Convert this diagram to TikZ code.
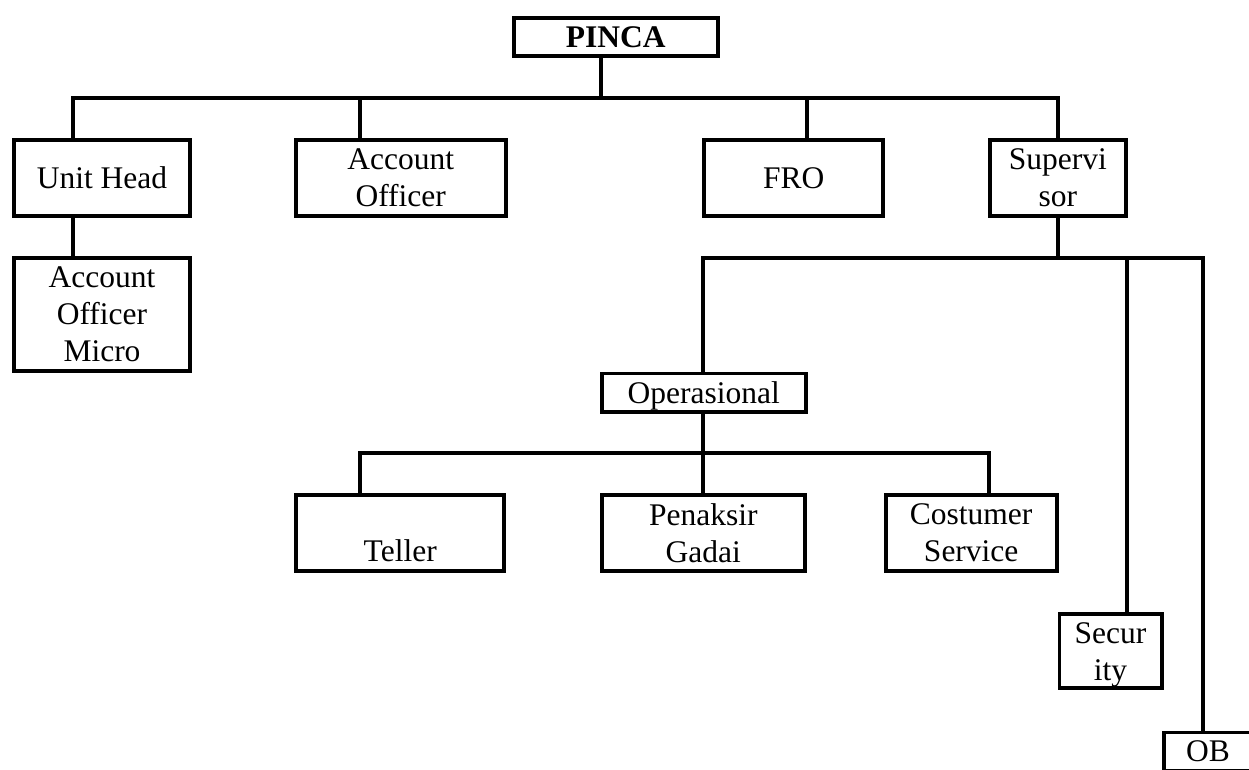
\documentclass[tikz,border=0pt]{standalone}
\usepackage{fontspec}
\setmainfont{Liberation Serif}
\tikzset{
  box/.style={draw, line width=3.9pt, inner sep=0pt, align=center, text depth=0pt,
              font=\fontsize{31.5}{37}\selectfont},
  link/.style={line width=4pt}
}
\begin{document}
\begin{tikzpicture}[x=1pt,y=-1pt]
\clip (0,0) rectangle (1249,769);
% boxes
\node[box, minimum width=204.5, minimum height=38] (pinca) at (615.8,36.8) {\textbf{PINCA}};
\node[box, minimum width=176.5, minimum height=75.5] (uh) at (102,177.8) {Unit Head};
\node[box, minimum width=209.8, minimum height=75.5] (ao) at (400.7,177.8) {Account\\Officer};
\node[box, minimum width=178.8, minimum height=75.5] (fro) at (793.8,177.8) {FRO};
\node[box, minimum width=135.5, minimum height=75.5] (sup) at (1057.8,177.8) {Supervi\\sor};
\node[box, minimum width=176.5, minimum height=112.8] (aom) at (102,314.2) {Account\\Officer\\Micro};
\node[box, minimum width=204.2, minimum height=38.1] (op) at (703.8,392.5) {Operasional};
\node[box, minimum width=208.2, minimum height=75.9] (tel) at (400.2,533) {\vphantom{P}\\Teller};
\node[box, minimum width=203.2, minimum height=75.9] (pg) at (703.3,533) {Penaksir\\Gadai};
\node[box, minimum width=170.8, minimum height=75.9] (cs) at (971.2,533) {Costumer\\Service};
\node[box, minimum width=102.1, minimum height=73.8] (sec) at (1110.5,651.3) {Secur\\ity};
\node[box, minimum width=88, minimum height=38.1] (ob) at (1208,751.5) {OB};
% first level connectors
\coordinate (tp) at (601,98);
\coordinate (t1) at (73,98);
\coordinate (t2) at (360,98);
\coordinate (t3) at (807,98);
\coordinate (t4) at (1058,98);
\draw[link] (pinca.south -| tp) -- (tp);
\draw[link] (uh.north -| t1) -- (t1) -- (t4) -- (sup.north -| t4);
\draw[link] (ao.north -| t2) -- (t2);
\draw[link] (fro.north -| t3) -- (t3);
\draw[link] (uh.south -| t1) -- (aom.north -| t1);
% second level
\coordinate (s1) at (703,258);
\coordinate (s2) at (1058,258);
\coordinate (s3) at (1127,258);
\coordinate (s4) at (1203,258);
\draw[link] (sup.south -| s2) -- (s2);
\draw[link] (op.north -| s1) -- (s1) -- (s4) -- (ob.north -| s4);
\draw[link] (s3) -- (sec.north -| s3);
% third level
\coordinate (u1) at (360,453);
\coordinate (u2) at (703,453);
\coordinate (u3) at (987,453);
\coordinate (u3b) at (989,451);
\draw[link] (op.south -| u2) -- (pg.north -| u2);
\draw[link] (tel.north -| u1) -- (u1) -- (u3);
\draw[link] (u3b) -- (cs.north -| u3b);
\end{tikzpicture}
\end{document}
